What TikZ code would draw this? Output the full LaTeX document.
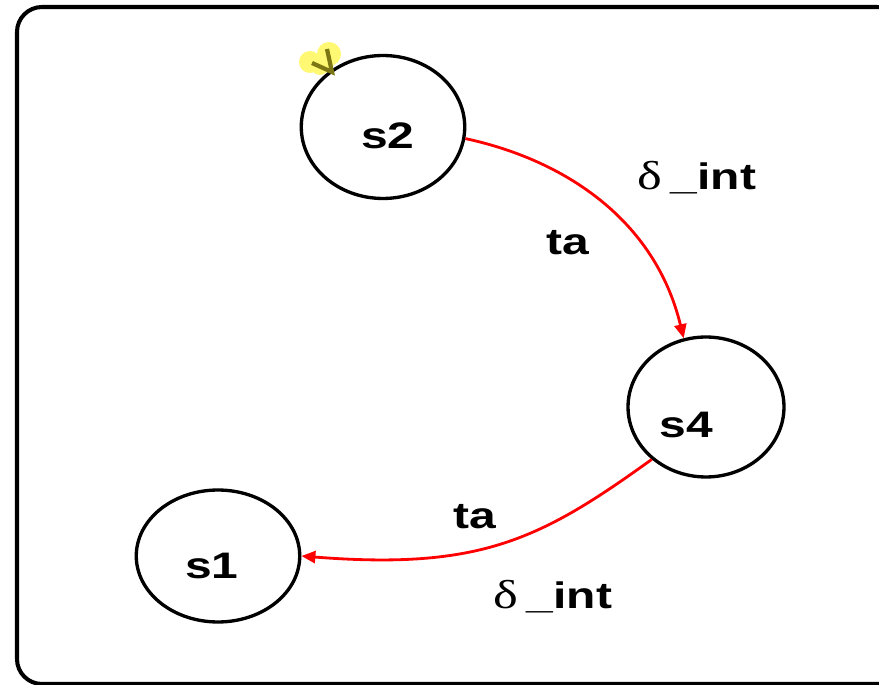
\documentclass[tikz,border=0pt]{standalone}
\usepackage{fontspec}
\setmainfont{Liberation Sans}
\newfontfamily\greekfont{Liberation Serif}
\usetikzlibrary{shapes.geometric, arrows.meta}

\newcommand{\dint}{{\greekfont\mdseries\fontsize{23}{24}\selectfont δ}\,\_int}

\begin{document}
\begin{tikzpicture}[
  x=0.02cm, y=-0.02cm,
  every node/.style={font=\fontsize{21}{24}\selectfont\bfseries},
  txt/.style={xscale=1.3},
  state/.style={ellipse, draw, line width=1.9pt, inner sep=0pt},
  trans/.style={draw=red, line width=1.6pt,
                -{Triangle[length=0.28cm, width=0.24cm]}},
  hilite/.style={fill=yellow!85!white, opacity=0.65},
]
  \clip (0,0) rectangle (879,685);
  \useasboundingbox (0,0) rectangle (879,685);
  \draw[line width=2.3pt, rounded corners=0.5cm] (17,7) rectangle (902,684);

  \node[state, minimum width=3.27cm, minimum height=2.86cm] (s2) at (383,127) {};
  \node[state, minimum width=3.12cm, minimum height=2.8cm] (s4) at (706,407) {};
  \node[state, minimum width=3.27cm, minimum height=2.64cm] (s1) at (218,556) {};

  \node[txt] (s2txt) at (388,136) {s2};
  \node[txt] (s4txt) at (686,425) {s4};
  \node[txt] (s1txt) at (212,566) {s1};

  % highlight on s2
  \fill[hilite] (310,62) circle (11) (329,54) circle (12) (320,66) circle (9);
  \draw[olive!85!black, line width=2.4pt] (312,63) -- (332,72) -- (327,49);

  \draw[trans] (s2.-8) .. controls (565,160) and (655,220) .. (s4.108);
  \draw[trans] (s4.224) .. controls (540,540) and (480,570) .. (s1.east);

  \node[txt] (lab1) at (697,178) {\dint};
  \node[txt] (ta1) at (568,243) {ta};
  \node[txt] (ta2) at (475,517) {ta};
  \node[txt] (lab2) at (553,597) {\dint};
\end{tikzpicture}
\end{document}
